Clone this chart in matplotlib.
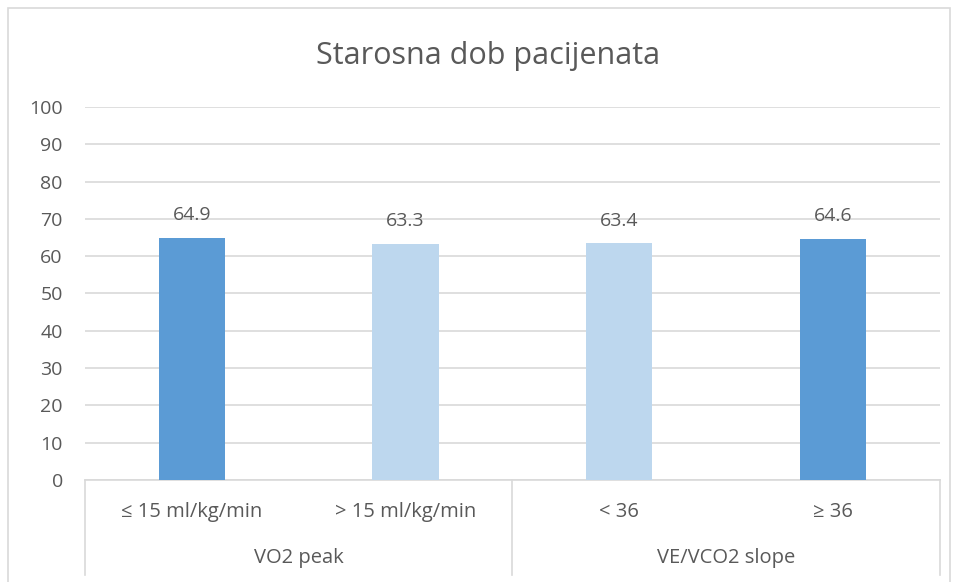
import matplotlib.pyplot as plt
from matplotlib.patches import Rectangle
import numpy as np

plt.rcParams['font.family'] = ['Open Sans', 'DejaVu Sans']

title = "Starosna dob pacijenata"
categories = ["≤ 15 ml/kg/min", "> 15 ml/kg/min", "< 36", "≥ 36"]
groups = ["VO2 peak", "VE/VCO2 slope"]
values = [64.9, 63.3, 63.4, 64.6]
colors = ["#5B9BD5", "#BDD7EE", "#BDD7EE", "#5B9BD5"]

text_col = "#595959"
grid_col = "#D9D9D9"

fig = plt.figure(figsize=(9.57, 5.82), dpi=100)
ax = fig.add_axes([0.0888, 0.1753, 0.8934, 0.6409])

x = np.arange(len(categories))
bars = ax.bar(x, values, width=0.31, color=colors, zorder=3)

for xi, v in zip(x, values):
    ax.annotate(f"{v:.1f}", (xi, v), xytext=(0, 10), textcoords='offset points',
                ha='center', va='bottom', fontsize=14, color=text_col)

ax.set_xlim(-0.5, len(categories) - 0.5)
ax.set_ylim(0, 100)
ax.set_yticks(np.arange(0, 101, 10))
ax.tick_params(axis='y', length=0, labelsize=14, labelcolor=text_col, pad=16)
ax.set_xticks([])
ax.grid(axis='y', color=grid_col, linewidth=1.2, zorder=0)
for s in ['left', 'right', 'top']:
    ax.spines[s].set_visible(False)
ax.spines['bottom'].set_color(grid_col)
ax.spines['bottom'].set_linewidth(1.2)

# two-level category axis
tr = ax.get_xaxis_transform()
for xb in [-0.5, 1.5, 3.5]:
    ax.plot([xb, xb], [0, -0.255], transform=tr, color=grid_col, lw=1.2, clip_on=False)
for xi, c in zip(x, categories):
    ax.text(xi, -0.086, c, transform=tr, ha='center', va='center', fontsize=14.5, color=text_col)
for gi, g in enumerate(groups):
    ax.text(0.5 + 2 * gi, -0.208, g, transform=tr, ha='center', va='center', fontsize=14.5, color=text_col)

fig.text(0.51, 0.903, title, ha='center', va='center', fontsize=22, color=text_col)

fig.patches.append(Rectangle((8 / 957, -0.01), 942 / 957, 0.9966, transform=fig.transFigure,
                             fill=False, edgecolor=grid_col, lw=1.2))

fig.savefig('out.png', dpi=100)
